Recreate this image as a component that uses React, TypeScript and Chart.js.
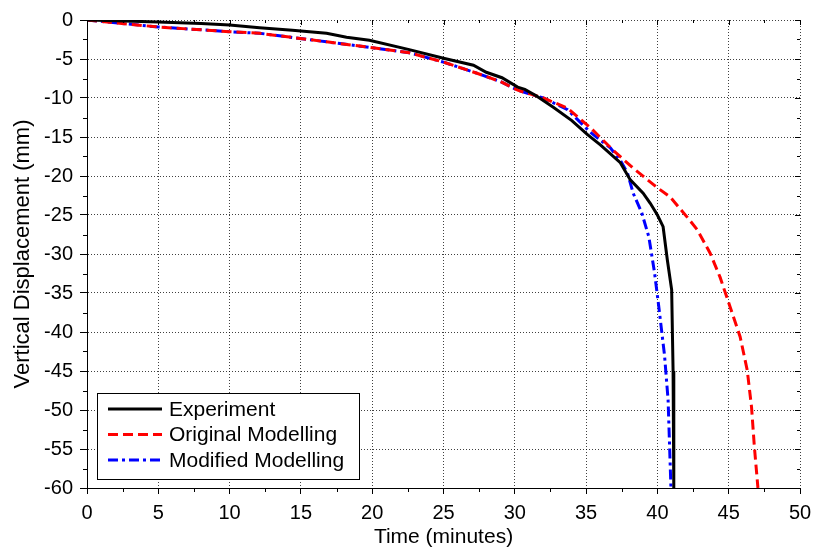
import React, { useEffect, useRef } from "react";
import { Chart, registerables } from "chart.js";

Chart.register(...registerables);

const expTime = [0, 2, 5, 8, 10, 12.1, 14.4, 16.8, 18.2, 19.8, 22.6, 25, 27.1, 28, 29.1, 30.2, 30.7, 31.5, 32.7, 34, 35.1, 36, 37.4, 38.1, 39, 39.5, 40, 40.4, 40.7, 41.0, 41.1, 41.15];
const expDisp = [0, -0.1, -0.25, -0.45, -0.65, -1.0, -1.3, -1.7, -2.2, -2.6, -3.8, -4.9, -5.8, -6.7, -7.4, -8.6, -8.9, -9.7, -11.2, -12.9, -14.7, -16, -18.3, -20.5, -22.2, -23.5, -25, -26.5, -30.8, -34.6, -45, -60];

const origTime = [0, 5, 10, 12.1, 16.8, 19.8, 22.6, 25, 27.3, 29, 30.2, 32, 33.7, 35.3, 36.9, 38.3, 40, 40.9, 42.1, 42.8, 43.7, 44.4, 45.1, 45.8, 46.3, 46.6, 46.8, 47.05];
const origDisp = [0, -0.9, -1.5, -1.7, -2.8, -3.5, -4.2, -5.4, -6.8, -7.9, -9, -10, -11.3, -13.8, -16.7, -19, -21.5, -22.7, -25.3, -26.9, -29.9, -33, -36.8, -40.6, -44.9, -49.6, -54.7, -60];

const modTime = [0, 5, 10, 12.1, 16.8, 19.8, 22.6, 25, 27.3, 29, 30.2, 32, 33.7, 35.3, 36.7, 37.4, 37.9, 38.3, 38.9, 39.4, 39.8, 40.1, 40.5, 40.75, 40.95];
const modDisp = [0, -0.9, -1.5, -1.7, -2.8, -3.5, -4.2, -5.4, -6.8, -7.9, -9, -10, -11.5, -14.4, -16.4, -18, -19.6, -22.2, -24.7, -27.8, -32.4, -36.8, -43, -48.7, -60];

const xTicks = [0, 5, 10, 15, 20, 25, 30, 35, 40, 45, 50];
const yTicks = [0, -5, -10, -15, -20, -25, -30, -35, -40, -45, -50, -55, -60];
const xMinor = [2.5, 7.5, 12.5, 17.5, 22.5, 27.5, 32.5, 37.5, 42.5, 47.5];
const yMinor = [-2.5, -7.5, -12.5, -17.5, -22.5, -27.5, -32.5, -37.5, -42.5, -47.5, -52.5, -57.5];

const seriesNames = ["Experiment", "Original Modelling", "Modified Modelling"];
const seriesColors = ["#000000", "#ff0000", "#0000ff"];
const seriesDashes: number[][] = [[], [10, 5], [10, 4, 3, 4]];

const FONT = "'Liberation Sans', Arial, sans-serif";

function toPoints(t: number[], d: number[]) {
  return t.map((v, i) => ({ x: v, y: d[i] }));
}

const minorTickPlugin = {
  id: "minorTicks",
  afterDraw(chart: any) {
    const ctx = chart.ctx as CanvasRenderingContext2D;
    const xs = chart.scales.x;
    const ys = chart.scales.y;
    const { left, right, top, bottom } = chart.chartArea;
    ctx.save();
    ctx.strokeStyle = "#000";
    ctx.lineWidth = 1;
    ctx.beginPath();
    xMinor.forEach((v) => {
      const px = Math.round(xs.getPixelForValue(v)) + 0.5;
      ctx.moveTo(px, bottom);
      ctx.lineTo(px, bottom + 4);
      ctx.moveTo(px, top);
      ctx.lineTo(px, top + 3);
    });
    xTicks.forEach((v) => {
      const px = Math.round(xs.getPixelForValue(v)) + 0.5;
      ctx.moveTo(px, top);
      ctx.lineTo(px, top + 5);
    });
    yMinor.forEach((v) => {
      const py = Math.round(ys.getPixelForValue(v)) + 0.5;
      ctx.moveTo(left - 4, py);
      ctx.lineTo(left, py);
      ctx.moveTo(right - 3, py);
      ctx.lineTo(right, py);
    });
    yTicks.forEach((v) => {
      const py = Math.round(ys.getPixelForValue(v)) + 0.5;
      ctx.moveTo(right - 5, py);
      ctx.lineTo(right, py);
    });
    ctx.stroke();
    ctx.restore();
  },
};

const legendPlugin = {
  id: "boxLegend",
  afterDraw(chart: any) {
    const ctx = chart.ctx as CanvasRenderingContext2D;
    const x0 = 97, y0 = 393, w = 262, h = 86;
    ctx.save();
    ctx.fillStyle = "#ffffff";
    ctx.fillRect(x0, y0, w, h);
    ctx.strokeStyle = "#000000";
    ctx.lineWidth = 1;
    ctx.strokeRect(x0 + 0.5, y0 + 0.5, w, h);
    ctx.font = "21px " + FONT;
    ctx.textBaseline = "middle";
    ctx.textAlign = "left";
    seriesNames.forEach((name, i) => {
      const yy = y0 + 16 + i * 25.5;
      ctx.beginPath();
      ctx.setLineDash(seriesDashes[i]);
      ctx.strokeStyle = seriesColors[i];
      ctx.lineWidth = 3;
      ctx.moveTo(x0 + 11, yy);
      ctx.lineTo(x0 + 65, yy);
      ctx.stroke();
      ctx.setLineDash([]);
      ctx.fillStyle = "#000000";
      ctx.fillText(name, x0 + 72, yy + 1);
    });
    ctx.restore();
  },
};

export default function App() {
  const ref = useRef<HTMLCanvasElement | null>(null);
  useEffect(() => {
    if (!ref.current) return;
    const datasets = [
      toPoints(expTime, expDisp),
      toPoints(origTime, origDisp),
      toPoints(modTime, modDisp),
    ].map((data, i) => ({
      label: seriesNames[i],
      data,
      borderColor: seriesColors[i],
      backgroundColor: seriesColors[i],
      borderWidth: 3,
      borderDash: seriesDashes[i],
      pointRadius: 0,
      tension: 0,
      fill: false,
    }));
    const chart = new Chart(ref.current, {
      type: "line",
      data: { datasets },
      plugins: [minorTickPlugin, legendPlugin],
      options: {
        animation: false,
        responsive: false,
        maintainAspectRatio: false,
        layout: { padding: { left: 0, top: 20, right: 14, bottom: 0 } },
        plugins: { legend: { display: false }, tooltip: { enabled: false } },
        scales: {
          x: {
            type: "linear",
            min: 0,
            max: 50,
            afterFit: (s: any) => { s.height = 61; s.paddingRight = 0; s.paddingLeft = 0; },
            afterBuildTicks: (s: any) => {
              s.ticks = xTicks.map((v) => ({ value: v }));
            },
            ticks: {
              autoSkip: false,
              maxRotation: 0,
              padding: 7,
              color: "#000",
              font: { family: FONT, size: 20 },
              callback: (v: any) => String(v),
            },
            grid: {
              color: "rgba(0,0,0,0.75)",
              lineWidth: 1,
              tickLength: 6,
              tickColor: "#000",
              tickWidth: 1,
            },
            border: { display: true, color: "#000", width: 1, dash: [1, 2] },
            title: {
              display: true,
              text: "Time (minutes)",
              color: "#000",
              font: { family: FONT, size: 21 },
              padding: { top: 0, bottom: -1 },
            },
          },
          y: {
            type: "linear",
            min: -60,
            max: 0,
            afterFit: (s: any) => { s.width = 87; s.paddingTop = 0; s.paddingBottom = 0; },
            afterBuildTicks: (s: any) => {
              s.ticks = yTicks.slice().reverse().map((v) => ({ value: v }));
            },
            ticks: {
              autoSkip: false,
              padding: 7,
              color: "#000",
              font: { family: FONT, size: 20 },
              callback: (v: any) => String(v),
            },
            grid: {
              color: "rgba(0,0,0,0.75)",
              lineWidth: 1,
              tickLength: 7,
              tickColor: "#000",
              tickWidth: 1,
            },
            border: { display: true, color: "#000", width: 1, dash: [1, 2] },
            title: {
              display: true,
              text: "Vertical Displacement (mm)",
              color: "#000",
              font: { family: FONT, size: 22 },
              padding: { top: 10, bottom: 0 },
            },
          },
        },
      },
    } as any);
    return () => chart.destroy();
  }, []);
  return (
    <div style={{ position: "absolute", left: 0, top: 0, width: 814, height: 549, background: "#fff" }}>
      <canvas ref={ref} width={814} height={549} style={{ display: "block" }} />
    </div>
  );
}
